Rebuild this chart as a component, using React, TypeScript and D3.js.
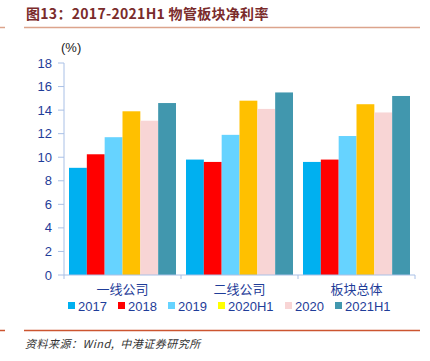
import React from "react";
import * as d3 from "d3";

const categories = ["一线公司", "二线公司", "板块总体"];
const seriesNames = ["2017", "2018", "2019", "2020H1", "2020", "2021H1"];
const seriesColors = ["#00b0f0", "#ff0000", "#66d3ff", "#ffc000", "#f8d5d5", "#4197ae"];
const legendColors = ["#00b0f0", "#ff0000", "#66d3ff", "#ffff00", "#f8d5d5", "#4197ae"];
const values2017 = [9.1, 9.8, 9.6];
const values2018 = [10.25, 9.6, 9.8];
const values2019 = [11.7, 11.9, 11.8];
const values2020H1 = [13.9, 14.8, 14.5];
const values2020 = [13.1, 14.1, 13.8];
const values2021H1 = [14.6, 15.5, 15.2];
const seriesValues = [values2017, values2018, values2019, values2020H1, values2020, values2021H1];
const yTicks = [0, 2, 4, 6, 8, 10, 12, 14, 16, 18];

const W = 430;
const H = 361;

export default function App() {
  const x0 = d3.scaleBand<string>().domain(categories).range([64, 415]).paddingInner(0).paddingOuter(0);
  const bw = x0.bandwidth();
  const x1 = d3.scaleBand<string>().domain(seriesNames).range([5, bw - 5]).padding(0);
  const y = d3.scaleLinear().domain([0, 18]).range([275, 63]);
  const axisColor = "#a9c0e6";
  const textColor = "#1f3d99";
  const legendX = [68, 118, 168, 218, 285, 335];

  return (
    <svg width={W} height={H} style={{ position: "absolute", left: 0, top: 0, background: "#fff" }}>
      <text x={26} y={19} fontFamily="'Noto Sans CJK SC', 'Liberation Sans', sans-serif" fontWeight="bold" fontSize={14} letterSpacing={0.3} fill="#7a2b2b">
        图13：2017-2021H1 物管板块净利率
      </text>
      <line x1={0} x2={5} y1={27.5} y2={27.5} stroke="#dca48c" strokeWidth={1.5} />
      <line x1={24} x2={420} y1={27.5} y2={27.5} stroke="#dca48c" strokeWidth={1.5} />

      <text x={61} y={52} fontFamily="'Liberation Sans', Arial, sans-serif" fontSize={13} fill="#222">(%)</text>

      {seriesValues.map((vals, si) =>
        vals.map((v, ci) => (
          <rect
            key={`${si}-${ci}`}
            x={(x0(categories[ci]) as number) + (x1(seriesNames[si]) as number)}
            y={y(v)}
            width={x1.bandwidth()}
            height={y(0) - y(v)}
            fill={seriesColors[si]}
          />
        ))
      )}

      <line x1={64} x2={64} y1={y(18)} y2={y(0)} stroke={axisColor} strokeWidth={1} />
      {yTicks.map((t) => (
        <g key={t}>
          <line x1={58} x2={64} y1={y(t)} y2={y(t)} stroke={axisColor} />
          <text x={52} y={y(t)} dy="0.35em" textAnchor="end" fontFamily="'Liberation Sans', Arial, sans-serif" fontSize={13} fill={textColor}>
            {t}
          </text>
        </g>
      ))}
      <line x1={64} x2={415} y1={y(0)} y2={y(0)} stroke={axisColor} strokeWidth={1} />
      {[...categories.map((c) => x0(c) as number), 415].map((xx, i) => (
        <line key={i} x1={xx} x2={xx} y1={y(0)} y2={y(0) + 4} stroke={axisColor} />
      ))}
      {categories.map((c) => (
        <text key={c} x={(x0(c) as number) + bw / 2} y={294} textAnchor="middle" fontFamily="'Noto Sans CJK SC', sans-serif" fontSize={13} fill={textColor}>
          {c}
        </text>
      ))}

      {seriesNames.map((s, i) => (
        <g key={s}>
          <rect x={legendX[i]} y={302} width={7} height={7} fill={legendColors[i]} />
          <text x={legendX[i] + 10} y={310.5} fontFamily="'Liberation Sans', Arial, sans-serif" fontSize={13} fill={textColor}>
            {s}
          </text>
        </g>
      ))}

      <line x1={0} x2={5} y1={330.5} y2={330.5} stroke="#cc5530" strokeWidth={1.5} />
      <line x1={24} x2={420} y1={330.5} y2={330.5} stroke="#cc5530" strokeWidth={1.5} />
      <text x={25} y={348} fontFamily="'Noto Sans CJK SC', sans-serif" fontStyle="italic" fontSize={11} letterSpacing={0.5} fill="#333" style={{ whiteSpace: "pre" }}>
        资料来源：Wind,  中港证券研究所
      </text>
    </svg>
  );
}
